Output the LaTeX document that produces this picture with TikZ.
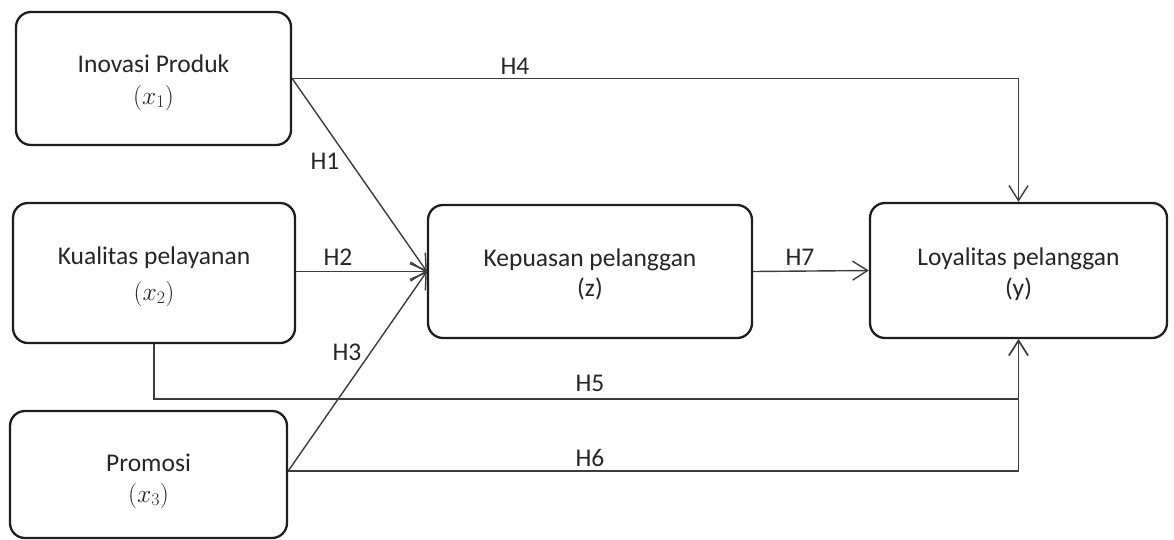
\documentclass[tikz,border=0pt]{standalone}
\usepackage{fix-cm}
\usepackage{fontspec}
\setmainfont{Carlito}
\usetikzlibrary{arrows.meta}
\definecolor{boxline}{HTML}{1E1E1E}
\definecolor{conline}{HTML}{3C3C3C}
\definecolor{txt}{HTML}{262626}
\tikzset{
  varbox/.style={draw=boxline, line width=2.3pt, rounded corners=15pt, fill=white, inner sep=0pt},
  vartext/.style={anchor=base, text=txt, inner sep=0pt, font=\fontsize{25.5}{31}\selectfont},
  conn/.style={draw=conline, line width=1.4pt,
    -{Straight Barb[length=15pt,width=19pt,line width=1.4pt]}},
  hlabel/.style={text=txt, font=\fontsize{25.5}{30}\selectfont, inner sep=0pt}
}
\begin{document}
\begin{tikzpicture}[x=1pt,y=-1pt]
\useasboundingbox (0,0) rectangle (1174,539);
\node[varbox, minimum width=275pt, minimum height=133pt] (x1) at (153.5,78.5) {};
\node[varbox, minimum width=282pt, minimum height=140pt] (x2) at (154,273) {};
\node[varbox, minimum width=277pt, minimum height=127pt] (x3) at (148.5,474.5) {};
\node[varbox, minimum width=324pt, minimum height=133pt] (z) at (590,271.5) {};
\node[varbox, minimum width=297pt, minimum height=135pt] (y) at (1018.5,270.5) {};

\node[vartext] (x1a) at (153.5,72) {Inovasi Produk};
\node[vartext] (x1b) at (153.5,104) {$(x_1)$};
\node[vartext] (x2a) at (154,264) {Kualitas pelayanan};
\node[vartext] (x2b) at (154,300) {$(x_2)$};
\node[vartext] (x3a) at (148.5,471) {Promosi};
\node[vartext] (x3b) at (148.5,502) {$(x_3)$};
\node[vartext] (za) at (590,266) {Kepuasan pelanggan};
\node[vartext] (zb) at (590,296) {(z)};
\node[vartext] (ya) at (1018.5,265) {Loyalitas pelanggan};
\node[vartext] (yb) at (1018.5,296) {(y)};

\draw[conn] (x1.east) -| (y.north);
\draw[conn] (x1.east) -- (z.west);
\draw[conn] (x2.east |- z.west) -- (z.west);
\draw[conn] ([yshift=3.5pt]x3.east) -- (z.west);
\draw[conn] (x2.south) -- ++(0,55) -| (y.south);
\draw[conn] ([yshift=3.5pt]x3.east) -| (y.south);
\draw[conn] (z.east) -- (y.west);

\node[hlabel] (h4) at (515,66) {H4};
\node[hlabel] (h1) at (325,161) {H1};
\node[hlabel] (h2) at (338,257) {H2};
\node[hlabel] (h3) at (347,352) {H3};
\node[hlabel] (h5) at (590,383) {H5};
\node[hlabel] (h6) at (590,458) {H6};
\node[hlabel] (h7) at (800,257) {H7};
\end{tikzpicture}
\end{document}
